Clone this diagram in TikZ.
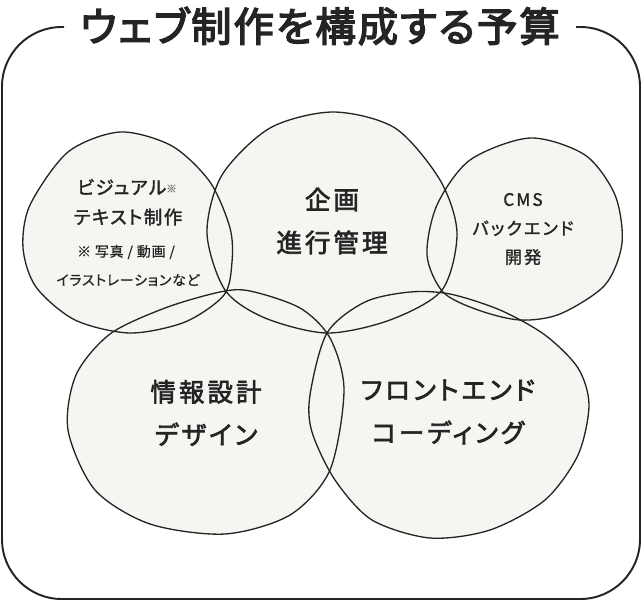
\documentclass[tikz,border=0pt]{standalone}
\usepackage{fontspec}
\usepackage{xcolor}
\usepackage{tikz}
\newfontfamily\jp[RawFeature=+palt]{Noto Sans CJK JP}
\definecolor{paper}{HTML}{F6F5F2}
\definecolor{ink}{HTML}{242424}

% blob outlines, in pixel units
\newcommand{\blobvis}{plot[smooth cycle] coordinates {(120,132) (172,146) (210,182) (230,228) (232,262) (224,295) (185,322) (130,333) (75,320) (36,287) (23,248) (30,205) (68,152)}}
\newcommand{\blobplan}{plot[smooth cycle] coordinates {(333,112) (395,128) (440,180) (457,233) (442,290) (390,320) (327,333) (265,318) (225,290) (207,233) (222,175) (270,128)}}
\newcommand{\blobcms}{plot[smooth cycle] coordinates {(530,138) (585,155) (615,195) (622,243) (605,285) (560,314) (520,320) (478,310) (443,292) (427,255) (437,205) (470,160)}}
\newcommand{\blobia}{plot[smooth cycle] coordinates {(250,291) (300,308) (330,338) (344,390) (330,470) (290,515) (225,534) (150,524) (95,490) (68,430) (76,375) (110,334) (165,308) (220,292)}}
\newcommand{\blobfe}{plot[smooth cycle] coordinates {(327,333) (365,302) (410,292) (450,294) (500,310) (545,335) (578,368) (589,405) (578,455) (545,500) (490,530) (430,538) (372,520) (335,480) (312,432) (310,395)}}

\begin{document}
\begin{tikzpicture}[
  x=0.02cm, y=-0.02cm,
  font=\jp, text=ink
]
\tikzset{
    frame/.style = {draw=ink, line width=1.1pt, rounded corners=34pt},
    blobfill/.style = {fill=paper, draw=none},
    blobline/.style = {draw=ink, line width=0.75pt},
    titletext/.style = {font=\jp\fontsize{23}{27}\selectfont\addfontfeature{FakeBold=3.5,LetterSpace=5}},
    biglabel/.style = {align=center, font=\jp\fontsize{14.5}{24.4}\selectfont\addfontfeature{FakeBold=2.6,LetterSpace=12}},
    midlabel/.style = {align=center, font=\jp\fontsize{9.8}{16.4}\selectfont\addfontfeature{FakeBold=1.4,LetterSpace=12}},
    vislabel/.style = {font=\jp\fontsize{10.5}{12}\selectfont\addfontfeature{FakeBold=1.8,LetterSpace=8}},
    smalllabel/.style = {font=\jp\fontsize{7.9}{10}\selectfont\addfontfeature{FakeBold=0.8,LetterSpace=6}}
}
\useasboundingbox[fill=white] (0,0) rectangle (642,602);

% frame with gap for the title
\node[titletext] (title) at (320,26) {ウェブ制作を構成する予算};
\draw[frame] (64,27) -- (2,27) -- (2,599) -- (640,599) -- (640,27) -- (576,27);

% blobs: fill first, then outlines
\path[blobfill] \blobvis;
\path[blobfill] \blobplan;
\path[blobfill] \blobcms;
\path[blobfill] \blobia;
\path[blobfill] \blobfe;
\path[blobline] \blobvis;
\path[blobline] \blobplan;
\path[blobline] \blobcms;
\path[blobline] \blobia;
\path[blobline] \blobfe;

% labels
\node[vislabel] (vis1) at (127,187) {ビジュアル{\fontsize{6}{6}\selectfont\color{ink!60}\raisebox{1pt}{※}}};
\node[vislabel] (vis2) at (128,217) {テキスト制作};
\node[smalllabel] (vis3) at (126,252) {※ 写真 / 動画 /};
\node[smalllabel] (vis4) at (128,280) {イラストレーションなど};
\node[biglabel] (plan) at (332,221) {企画\\進行管理};
\node[midlabel] (cms) at (523,229) {CMS\\バックエンド\\開発};
\node[biglabel] (ia) at (206,413) {情報設計\\デザイン};
\node[biglabel] (fe) at (448,412) {フロントエンド\\コーディング};
\end{tikzpicture}
\end{document}
